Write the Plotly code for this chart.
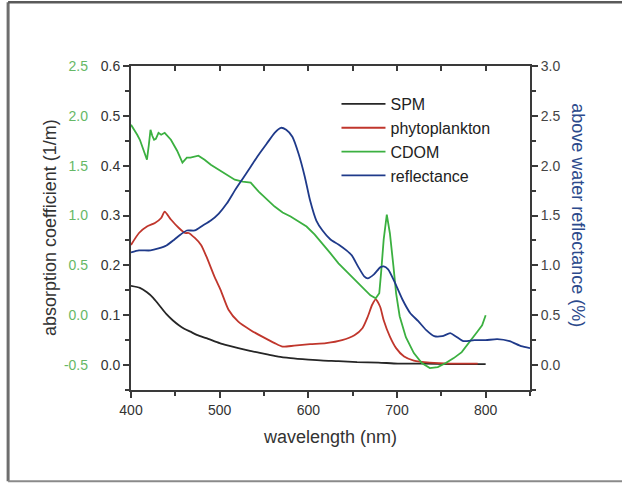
import plotly.graph_objects as go

# Wavelength grids (nm) and absorption / reflectance spectra
spm_wl = [400, 410, 418, 425, 431, 440, 447, 454, 460, 467, 475, 485, 500, 510, 521,
          533, 544, 555, 566, 580, 600, 617, 634, 655, 679, 701, 730, 760, 800]
spm_a = [0.159, 0.155, 0.146, 0.135, 0.122, 0.102, 0.090, 0.080, 0.073, 0.067, 0.060,
         0.054, 0.044, 0.039, 0.034, 0.029, 0.025, 0.021, 0.017, 0.014, 0.011, 0.009,
         0.008, 0.006, 0.005, 0.003, 0.003, 0.002, 0.002]

phyto_wl = [400, 409, 418, 427, 434, 438, 445, 454, 461, 465, 472, 479, 485, 494, 501,
            510, 521, 535, 548, 562, 571, 584, 602, 620, 638, 652, 661, 667, 672, 676,
            681, 685, 692, 699, 708, 719, 737, 760, 791]
phyto_a = [0.241, 0.265, 0.278, 0.285, 0.295, 0.308, 0.292, 0.275, 0.265, 0.265, 0.255,
           0.241, 0.218, 0.178, 0.151, 0.111, 0.087, 0.070, 0.057, 0.044, 0.037, 0.039,
           0.042, 0.044, 0.050, 0.060, 0.074, 0.097, 0.121, 0.132, 0.117, 0.090, 0.057,
           0.034, 0.017, 0.009, 0.005, 0.003, 0.003]

cdom_wl = [400, 404, 407, 410, 413, 416, 418, 420, 422, 424, 426, 428, 431, 434, 438,
           445, 452, 458, 463, 467, 472, 476, 483, 490, 499, 508, 517, 526, 535, 544,
           553, 562, 571, 580, 589, 598, 607, 616, 625, 634, 643, 652, 661, 670, 676,
           680, 682, 685, 688.5, 692, 696, 699, 703, 710, 719, 728, 737, 746, 755, 764,
           773, 782, 791, 796, 799, 800]
cdom_a = [1.91, 1.86, 1.81, 1.76, 1.68, 1.62, 1.56, 1.70, 1.86, 1.80, 1.76, 1.77, 1.83,
          1.81, 1.83, 1.76, 1.65, 1.53, 1.58, 1.58, 1.59, 1.60, 1.56, 1.51, 1.46, 1.41,
          1.36, 1.34, 1.33, 1.24, 1.16, 1.09, 1.03, 0.99, 0.94, 0.89, 0.81, 0.72, 0.62,
          0.52, 0.44, 0.35, 0.27, 0.20, 0.17, 0.22, 0.42, 0.76, 1.01, 0.82, 0.49, 0.22,
          -0.01, -0.22, -0.38, -0.48, -0.53, -0.52, -0.48, -0.43, -0.37, -0.27, -0.16,
          -0.10, -0.01, 0.00]

refl_wl = [400, 409, 422, 431, 440, 449, 456, 463, 472, 481, 490, 499, 508, 517, 526,
           535, 544, 553, 562, 569, 575, 582, 589, 596, 602, 609, 616, 625, 634, 643,
           649, 656, 663, 667, 674, 681, 685, 690, 697, 706, 715, 724, 733, 742, 751,
           760, 766, 775, 787, 800, 813, 827, 840, 850]
refl_r = [1.13, 1.15, 1.15, 1.17, 1.20, 1.26, 1.31, 1.35, 1.35, 1.40, 1.45, 1.52, 1.62,
          1.75, 1.87, 1.99, 2.11, 2.22, 2.33, 2.38, 2.36, 2.29, 2.12, 1.89, 1.65, 1.45,
          1.35, 1.26, 1.21, 1.15, 1.10, 0.99, 0.89, 0.87, 0.91, 0.98, 0.99, 0.96, 0.84,
          0.66, 0.52, 0.44, 0.35, 0.29, 0.29, 0.32, 0.29, 0.24, 0.25, 0.25, 0.26, 0.24,
          0.19, 0.17]

black_ticks = [0.0, 0.1, 0.2, 0.3, 0.4, 0.5, 0.6]
green_ticks = [-0.5, 0.0, 0.5, 1.0, 1.5, 2.0, 2.5]
green_labels = ["-0.5", "0.0", "0.5", "1.0", "1.5", "2.0", "2.5"]
refl_ticks = [0.0, 0.5, 1.0, 1.5, 2.0, 2.5, 3.0]
x_ticks = [400, 500, 600, 700, 800]

FONT = "Liberation Sans, Arial, sans-serif"
AXC = "#3a3a3a"

fig = go.Figure()
fig.add_trace(go.Scatter(x=spm_wl, y=spm_a, name="SPM", mode="lines",
                         line=dict(color="#262626", width=1.8, shape="spline",
                                   smoothing=0.6), yaxis="y"))
fig.add_trace(go.Scatter(x=phyto_wl, y=phyto_a, name="phytoplankton", mode="lines",
                         line=dict(color="#c0362c", width=1.8, shape="spline",
                                   smoothing=0.6), yaxis="y"))
fig.add_trace(go.Scatter(x=cdom_wl, y=cdom_a, name="CDOM", mode="lines",
                         line=dict(color="#3bb040", width=1.8), yaxis="y2"))
fig.add_trace(go.Scatter(x=refl_wl, y=refl_r, name="reflectance", mode="lines",
                         line=dict(color="#1f3a8a", width=1.8, shape="spline",
                                   smoothing=0.6), yaxis="y3"))
# invisible carrier for the top frame axis
fig.add_trace(go.Scatter(x=[400], y=[0], xaxis="x2", yaxis="y", mode="markers",
                         marker=dict(opacity=0), showlegend=False, hoverinfo="skip"))

fig.update_layout(
    width=622, height=483,
    margin=dict(l=131, r=92, t=66, b=93),
    paper_bgcolor="white", plot_bgcolor="white",
    font=dict(family=FONT, size=14, color="#333"),
    showlegend=True,
    legend=dict(x=0.515, y=0.935, xanchor="left", yanchor="top",
                bgcolor="rgba(0,0,0,0)", font=dict(size=16, color="#222"),
                itemwidth=44, tracegroupgap=0),
    xaxis=dict(range=[400, 850], tickvals=x_ticks, ticks="outside", ticklen=6,
               tickwidth=1.5, tickcolor=AXC, showline=True, linecolor=AXC, linewidth=2,
               showgrid=False, zeroline=False,
               minor=dict(dtick=50, tick0=400, ticks="outside", ticklen=4,
                          tickcolor=AXC, tickwidth=1.5),
               tickfont=dict(size=14, color="#333"),
               title=dict(text="wavelength (nm)", font=dict(size=18, color="#333"),
                          standoff=14)),
    xaxis2=dict(range=[400, 850], overlaying="x", side="top", anchor="y",
                dtick=50, tick0=400, ticks="inside", ticklen=5, tickwidth=1.5,
                tickcolor=AXC, showline=True, linecolor=AXC, linewidth=2,
                showticklabels=False, showgrid=False, zeroline=False),
    yaxis=dict(range=[-0.05, 0.6], tickvals=black_ticks, tickformat=".1f",
               ticks="outside", ticklen=6, tickwidth=1.5, tickcolor=AXC,
               showline=True, linecolor=AXC, linewidth=2, showgrid=False,
               zeroline=False,
               minor=dict(dtick=0.05, tick0=0, ticks="outside", ticklen=4,
                          tickcolor=AXC, tickwidth=1.5),
               tickfont=dict(size=14, color="#333")),
    yaxis2=dict(range=[-0.75, 2.5], tickvals=green_ticks, ticktext=green_labels,
                overlaying="y", side="left", anchor="x", ticks="", showline=False,
                showgrid=False, zeroline=False, ticklabelstandoff=42,
                tickfont=dict(size=14, color="#66b866")),
    yaxis3=dict(range=[-0.25, 3.0], tickvals=refl_ticks, tickformat=".1f",
                overlaying="y", side="right", anchor="x", ticks="outside",
                ticklen=6, tickwidth=1.5, tickcolor=AXC, showline=True,
                linecolor=AXC, linewidth=2, showgrid=False, zeroline=False,
                minor=dict(dtick=0.25, tick0=0, ticks="outside", ticklen=4,
                           tickcolor=AXC, tickwidth=1.5),
                tickfont=dict(size=14, color="#444")),
)

# axis titles
fig.add_annotation(text="absorption coefficient (1/m)", xref="paper", yref="paper",
                   x=-0.203, y=0.5, xanchor="center", yanchor="middle",
                   textangle=-90, showarrow=False, font=dict(size=18, color="#333"))
fig.add_annotation(text="above water reflectance (%)", xref="paper", yref="paper",
                   x=1.12, y=0.54, xanchor="center", yanchor="middle",
                   textangle=90, showarrow=False, font=dict(size=18, color="#2c4a8c"))

# outer frame of the figure
fig.add_shape(type="line", xref="paper", yref="paper", x0=-0.308, x1=-0.308,
              y0=-0.282, y1=1.197, line=dict(color="#6e6e6e", width=3))
fig.add_shape(type="line", xref="paper", yref="paper", x0=-0.308, x1=1.24,
              y0=1.197, y1=1.197, line=dict(color="#5a5a5a", width=2.5))
fig.add_shape(type="line", xref="paper", yref="paper", x0=-0.308, x1=1.24,
              y0=-0.282, y1=-0.282, line=dict(color="#8a8a8a", width=2))

fig.write_html("out.html")
